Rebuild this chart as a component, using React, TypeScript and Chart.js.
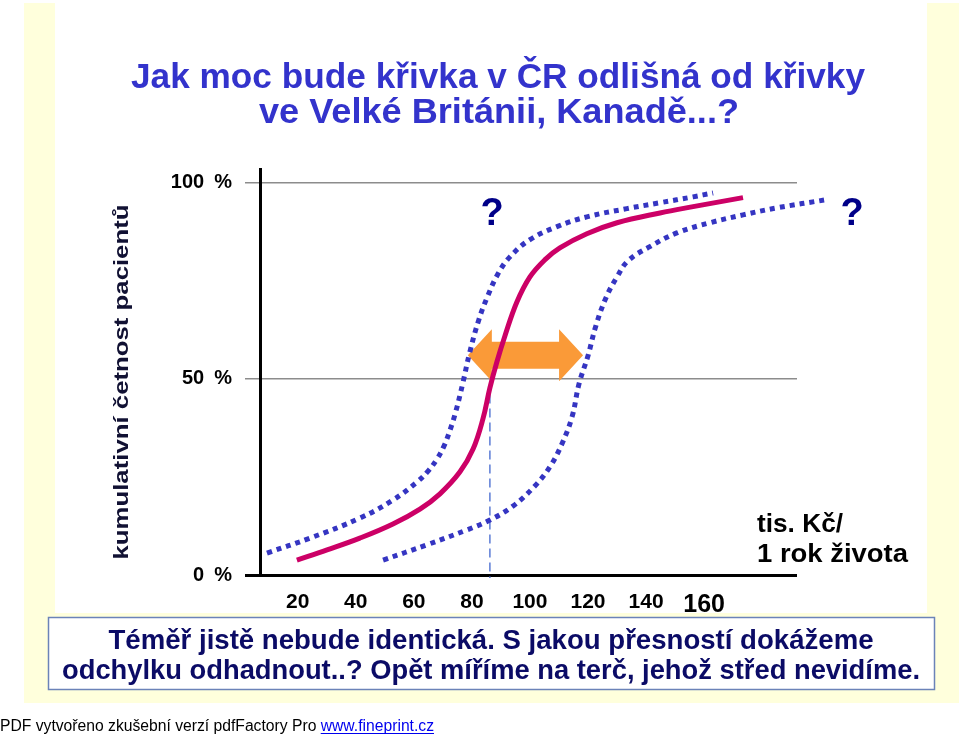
import React, { useEffect, useRef } from 'react';
import { Chart, registerables } from 'chart.js';

Chart.register(...registerables);

// ---- data ----
const xTicks = [20, 40, 60, 80, 100, 120, 140, 160];
const yTicks = [0, 50, 100];

const redX = [19.7, 30.1, 41.4, 52.8, 62.1, 69.0, 75.9, 80.4, 83.8, 86.2, 88.6, 91.4, 95.5, 100.0, 105.2, 110.3, 119.6, 130.0, 144.8, 156.2, 173.4];
const redY = [3.8, 6.4, 9.4, 13.0, 16.8, 20.7, 26.3, 32.1, 39.8, 47.7, 54.3, 61.0, 69.6, 76.0, 80.4, 83.4, 87.0, 89.8, 92.3, 93.9, 96.2];

const leftX = [9.4, 24.2, 41.4, 52.8, 61.1, 64.9, 68.0, 70.4, 72.5, 74.5, 76.9, 79.3, 82.4, 85.5, 89.0, 93.1, 100.0, 109.3, 119.6, 133.4, 144.8, 156.2, 163.1];
const leftY = [5.6, 9.4, 14.5, 19.1, 23.7, 26.5, 29.6, 32.9, 37.0, 41.8, 49.0, 56.9, 65.1, 71.2, 76.8, 81.1, 85.5, 88.8, 91.3, 93.4, 94.9, 96.4, 97.4];

const rightX = [49.4, 64.5, 78.3, 86.2, 94.2, 101.7, 106.9, 111.0, 114.5, 116.9, 120.0, 122.7, 126.2, 130.0, 133.8, 141.3, 150.6, 162.0, 173.4, 185.1, 202.3];
const rightY = [3.8, 7.7, 11.5, 14.0, 17.6, 22.7, 27.6, 33.4, 40.3, 48.7, 55.9, 63.5, 70.7, 76.0, 80.1, 83.7, 87.2, 89.8, 91.8, 93.6, 95.7];

const arrowFrom = 78.6;
const arrowTo = 118.3;
const arrowLevel = 56;
const medianX = 86.2;
const medianTop = 46;
const questionMarks = [
  { x: 87, y: 92 },
  { x: 211, y: 92 },
];

const titleLines = ['Jak moc bude křivka v ČR odlišná od křivky', 've Velké Británii, Kanadě...?'];
const yTitle = 'kumulativní četnost pacientů';
const unitLines = ['tis. Kč/', '1 rok života'];
const noteLines = [
  'Téměř jistě nebude identická. S jakou přesností dokážeme',
  'odchylku odhadnout..? Opět míříme na terč, jehož střed nevidíme.',
];
const footerText = 'PDF vytvořeno zkušební verzí pdfFactory Pro ';
const footerLink = 'www.fineprint.cz';

const SANS = '"Liberation Sans", Arial, Helvetica, sans-serif';

const toPoints = (xs: number[], ys: number[]) => xs.map((x, i) => ({ x, y: ys[i] }));

function fitText(
  ctx: CanvasRenderingContext2D,
  text: string,
  x: number,
  y: number,
  width: number,
  font: string,
  color: string,
  align: 'left' | 'center' = 'center',
  baseline: CanvasTextBaseline = 'alphabetic'
) {
  ctx.save();
  ctx.font = font;
  ctx.fillStyle = color;
  ctx.textAlign = 'left';
  ctx.textBaseline = baseline;
  const w = ctx.measureText(text).width;
  const sx = width / w;
  const left = align === 'center' ? x - width / 2 : x;
  ctx.translate(left, y);
  ctx.scale(sx, 1);
  ctx.fillText(text, 0, 0);
  ctx.restore();
}

const slidePlugin = {
  id: 'slide',
  beforeDraw(chart: any) {
    const ctx = chart.ctx as CanvasRenderingContext2D;
    ctx.save();
    ctx.fillStyle = '#ffffff';
    ctx.fillRect(0, 0, chart.width, chart.height);
    ctx.fillStyle = '#FFFFDC';
    ctx.fillRect(24, 3, chart.width - 24, 700);
    ctx.fillStyle = '#ffffff';
    ctx.fillRect(55, 3, 872, 610);
    ctx.restore();
  },
  beforeDatasetsDraw(chart: any) {
    const ctx = chart.ctx as CanvasRenderingContext2D;
    const xs = chart.scales.x;
    const ys = chart.scales.y;
    // dashed median line
    ctx.save();
    ctx.strokeStyle = '#5B7BD6';
    ctx.lineWidth = 1.5;
    ctx.setLineDash([9, 5]);
    const mx = xs.getPixelForValue(medianX);
    ctx.beginPath();
    ctx.moveTo(mx, ys.getPixelForValue(medianTop));
    ctx.lineTo(mx, ys.getPixelForValue(0) + 3);
    ctx.stroke();
    ctx.restore();
    // orange double arrow
    const x1 = xs.getPixelForValue(arrowFrom);
    const x2 = xs.getPixelForValue(arrowTo);
    const cy = ys.getPixelForValue(arrowLevel);
    const head = 24;
    const hh = 26;
    const sh = 13.5;
    ctx.save();
    ctx.fillStyle = '#FA9A38';
    ctx.beginPath();
    ctx.moveTo(x1, cy);
    ctx.lineTo(x1 + head, cy - hh);
    ctx.lineTo(x1 + head, cy - sh);
    ctx.lineTo(x2 - head, cy - sh);
    ctx.lineTo(x2 - head, cy - hh);
    ctx.lineTo(x2, cy);
    ctx.lineTo(x2 - head, cy + hh);
    ctx.lineTo(x2 - head, cy + sh);
    ctx.lineTo(x1 + head, cy + sh);
    ctx.lineTo(x1 + head, cy + hh);
    ctx.closePath();
    ctx.fill();
    ctx.restore();
  },
  afterDraw(chart: any) {
    const ctx = chart.ctx as CanvasRenderingContext2D;
    const xs = chart.scales.x;
    const ys = chart.scales.y;
    // title
    fitText(ctx, titleLines[0], 498, 88, 734, `bold 35px ${SANS}`, '#3333CC');
    fitText(ctx, titleLines[1], 499, 123, 480, `bold 35px ${SANS}`, '#3333CC');
    // y title (rotated)
    ctx.save();
    ctx.translate(122, 382);
    ctx.rotate(-Math.PI / 2);
    fitText(ctx, yTitle, 0, 0, 355, `bold 21px ${SANS}`, '#111133', 'center', 'middle');
    ctx.restore();
    // question marks
    ctx.save();
    ctx.font = `bold 38px ${SANS}`;
    ctx.fillStyle = '#000088';
    ctx.textAlign = 'center';
    ctx.textBaseline = 'middle';
    questionMarks.forEach((q) => {
      ctx.fillText('?', xs.getPixelForValue(q.x), ys.getPixelForValue(q.y));
    });
    ctx.restore();
    // unit label
    fitText(ctx, unitLines[0], 757, 532, 86, `bold 25px ${SANS}`, '#000000', 'left');
    fitText(ctx, unitLines[1], 757, 562, 151, `bold 25px ${SANS}`, '#000000', 'left');
    // note box
    ctx.save();
    ctx.fillStyle = '#ffffff';
    ctx.fillRect(48, 617, 887, 73);
    ctx.strokeStyle = '#6B83B8';
    ctx.lineWidth = 1.5;
    ctx.strokeRect(48.5, 617.5, 886, 72);
    ctx.restore();
    fitText(ctx, noteLines[0], 491, 649, 765, `bold 28px ${SANS}`, '#0B0B66');
    fitText(ctx, noteLines[1], 491, 679, 858, `bold 28px ${SANS}`, '#0B0B66');
    // footer
    ctx.save();
    ctx.font = `16px ${SANS}`;
    const w1 = ctx.measureText(footerText).width;
    const w2 = ctx.measureText(footerLink).width;
    const sx = 434 / (w1 + w2);
    ctx.translate(0, 731);
    ctx.scale(sx, 1);
    ctx.textBaseline = 'alphabetic';
    ctx.fillStyle = '#000000';
    ctx.fillText(footerText, 0, 0);
    ctx.fillStyle = '#0000EE';
    ctx.fillText(footerLink, w1, 0);
    ctx.fillRect(w1, 2, w2, 1);
    ctx.restore();
  },
};

export default function App() {
  const ref = useRef<HTMLCanvasElement | null>(null);

  useEffect(() => {
    document.body.style.margin = '0';
    const canvas = ref.current;
    if (!canvas) return;
    const lineCommon = {
      pointRadius: 0,
      pointHoverRadius: 0,
      fill: false,
      tension: 0.4,
      borderCapStyle: 'butt' as const,
      clip: false as const,
    };
    const chart = new Chart(canvas, {
      type: 'line',
      data: {
        datasets: [
          {
            label: 'ČR',
            data: toPoints(redX, redY),
            borderColor: '#CC0066',
            borderWidth: 5,
            ...lineCommon,
          },
          {
            label: 'dolní odhad',
            data: toPoints(leftX, leftY),
            borderColor: '#3535C2',
            borderWidth: 5,
            borderDash: [5, 5],
            ...lineCommon,
          },
          {
            label: 'horní odhad',
            data: toPoints(rightX, rightY),
            borderColor: '#3535C2',
            borderWidth: 5,
            borderDash: [5, 5],
            ...lineCommon,
          },
        ],
      },
      options: {
        responsive: false,
        maintainAspectRatio: false,
        animation: false,
        devicePixelRatio: 1,
        layout: { padding: { left: 10, right: 162, top: 169, bottom: 10 } },
        plugins: { legend: { display: false }, tooltip: { enabled: false }, title: { display: false } },
        events: [],
        scales: {
          x: {
            type: 'linear',
            min: 7,
            max: 192,
            afterBuildTicks: (s: any) => {
              s.ticks = xTicks.map((v) => ({ value: v }));
            },
            afterFit: (s: any) => {
              s.height = 153;
            },
            grid: { display: false, drawTicks: false, tickLength: 0 },
            border: { display: false },
            ticks: {
              autoSkip: false,
              maxRotation: 0,
              padding: 15,
              color: '#000000',
              font: (c: any) => ({
                family: SANS,
                weight: 'bold',
                size: c.tick && c.tick.value === 160 ? 25 : 21,
              }),
              callback: (v: any) => String(v),
            },
          },
          y: {
            type: 'linear',
            min: 0,
            max: 103.5,
            afterBuildTicks: (s: any) => {
              s.ticks = yTicks.map((v) => ({ value: v }));
            },
            afterFit: (s: any) => {
              s.width = 250;
            },
            grid: {
              color: (c: any) => (c.tick && c.tick.value === 0 ? '#000000' : '#8C8C8C'),
              lineWidth: (c: any) => (c.tick && c.tick.value === 0 ? 3 : 1.5),
              tickLength: 15,
              drawTicks: true,
            },
            border: { display: true, color: '#000000', width: 3 },
            ticks: {
              padding: 13,
              color: '#000000',
              font: { family: SANS, weight: 'bold', size: 20 },
              callback: (v: any) => `${v}\u2002%`,
            },
          },
        },
      },
      plugins: [slidePlugin],
    });
    return () => chart.destroy();
  }, []);

  return (
    <div style={{ width: 959, height: 738, position: 'relative' }}>
      <canvas ref={ref} width={959} height={738} style={{ display: 'block', width: 959, height: 738 }} />
    </div>
  );
}
